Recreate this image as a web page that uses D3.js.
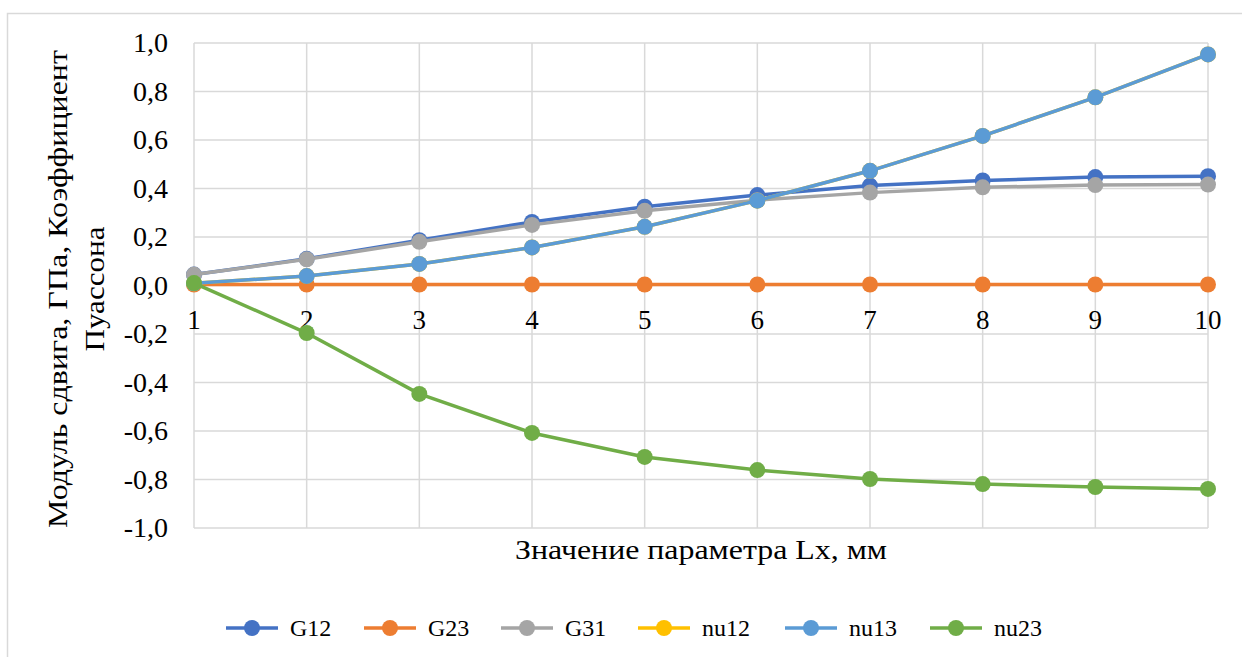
<!DOCTYPE html>
<html><head><meta charset="utf-8">
<script src="https://cdn.jsdelivr.net/npm/d3@7"></script>
<style>html,body{margin:0;padding:0;background:#fff;}svg{display:block;}
svg text{font-family:"Liberation Serif","Times New Roman",Tinos,"DejaVu Serif",serif;}</style>
</head><body>
<svg id="chart" width="1242" height="657"></svg>
<script>
const categories = [1,2,3,4,5,6,7,8,9,10];
const G12  = [0.045, 0.110, 0.187, 0.262, 0.325, 0.373, 0.412, 0.433, 0.447, 0.451];
const G23  = [0.004, 0.004, 0.004, 0.004, 0.004, 0.004, 0.004, 0.004, 0.004, 0.004];
const G31  = [0.045, 0.108, 0.180, 0.250, 0.308, 0.352, 0.383, 0.405, 0.414, 0.416];
const nu12 = [0.009, 0.039, 0.089, 0.157, 0.242, 0.350, 0.473, 0.617, 0.776, 0.953];
const nu13 = [0.009, 0.039, 0.089, 0.157, 0.242, 0.350, 0.473, 0.617, 0.776, 0.953];
const nu23 = [0.010, -0.196, -0.447, -0.608, -0.707, -0.761, -0.798, -0.819, -0.831, -0.839];
const seriesNames = ["G12","G23","G31","nu12","nu13","nu23"];
const yTicks = [-1,-0.8,-0.6,-0.4,-0.2,0,0.2,0.4,0.6,0.8,1];
const xTitle = "Значение параметра Lx, мм";
const yTitle = ["Модуль сдвига, ГПа, Коэффициент", "Пуассона"];

const colors = ["#4472C4","#ED7D31","#A5A5A5","#FFC000","#5B9BD5","#70AD47"];
const seriesValues = [G12,G23,G31,nu12,nu13,nu23];
const series = seriesNames.map((n,i)=>({name:n, color:colors[i], values:seriesValues[i]}));

const svg = d3.select("#chart");
const grid = "#d9d9d9";

svg.append("rect").attr("x",7.5).attr("y",13.5).attr("width",1400).attr("height",800)
  .attr("fill","#fff").attr("stroke",grid).attr("stroke-width",1.5);

const pL=194, pR=1208, pT=43, pB=528;
const x = d3.scaleLinear().domain([1,10]).range([pL,pR]);
const y = d3.scaleLinear().domain([-1,1]).range([pB,pT]);

svg.append("g").selectAll("line").data(yTicks).join("line")
  .attr("x1",pL).attr("x2",pR).attr("y1",d=>y(d)).attr("y2",d=>y(d))
  .attr("stroke",grid).attr("stroke-width",1.5);
svg.append("g").selectAll("line").data(categories).join("line")
  .attr("x1",d=>x(d)).attr("x2",d=>x(d)).attr("y1",pT).attr("y2",pB)
  .attr("stroke",grid).attr("stroke-width",1.5);

svg.append("g").selectAll("text").data(yTicks).join("text")
  .attr("x",168).attr("y",d=>y(d)).attr("dy","0.33em")
  .attr("text-anchor","end").attr("font-size",28).attr("fill","#000")
  .text(d=>d3.format(".1f")(d).replace(".",",").replace("−","-"));

svg.append("g").selectAll("text").data(categories).join("text")
  .attr("x",d=>x(d)).attr("y",y(0)+43).attr("text-anchor","middle")
  .attr("font-size",27).attr("fill","#000")
  .text(d=>d);

const line = d3.line().x((d,i)=>x(categories[i])).y(d=>y(d));
series.forEach(s=>{
  const g = svg.append("g");
  g.append("path").datum(s.values).attr("d",line).attr("fill","none")
    .attr("stroke",s.color).attr("stroke-width",3.5).attr("stroke-linejoin","round");
  g.selectAll("circle").data(s.values).join("circle")
    .attr("cx",(d,i)=>x(categories[i])).attr("cy",d=>y(d)).attr("r",8)
    .attr("fill",s.color);
});

svg.append("text").attr("x",(pL+pR)/2).attr("y",559).attr("text-anchor","middle")
  .attr("font-size",27).attr("fill","#000")
  .attr("textLength",372).attr("lengthAdjust","spacingAndGlyphs").text(xTitle);
const yTitleLen = [478,125];
yTitle.forEach((t,i)=>{
  svg.append("text").attr("transform",`translate(${67+i*37},289) rotate(-90)`)
    .attr("text-anchor","middle").attr("font-size",27).attr("fill","#000")
    .attr("textLength",yTitleLen[i]).attr("lengthAdjust","spacingAndGlyphs").text(t);
});

const legendMarkers = [252,390,527,664,811,956];
const ly = 628;
series.forEach((s,i)=>{
  const cx = legendMarkers[i];
  svg.append("line").attr("x1",cx-26).attr("x2",cx+26).attr("y1",ly).attr("y2",ly)
    .attr("stroke",s.color).attr("stroke-width",3.5);
  svg.append("circle").attr("cx",cx).attr("cy",ly).attr("r",8).attr("fill",s.color);
  svg.append("text").attr("x",cx+38).attr("y",ly).attr("dy","0.35em")
    .attr("font-size",24).attr("fill","#000").text(s.name);
});
</script>
</body></html>
